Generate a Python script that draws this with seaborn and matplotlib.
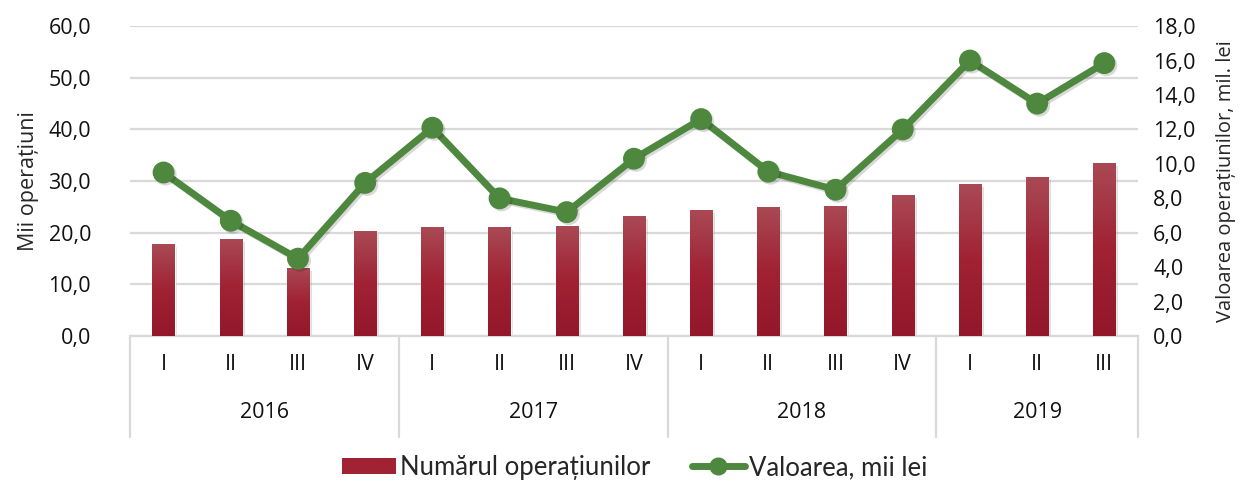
import numpy as np
import pandas as pd
import matplotlib
matplotlib.use('Agg')
import matplotlib.pyplot as plt
import matplotlib.patheffects as pe
from matplotlib.colors import LinearSegmentedColormap
from matplotlib.lines import Line2D
from matplotlib.patches import Patch
from matplotlib.ticker import FuncFormatter
import seaborn as sns

years = ['2016', '2017', '2018', '2019']
quarters = ['I', 'II', 'III', 'IV', 'I', 'II', 'III', 'IV', 'I', 'II', 'III', 'IV', 'I', 'II', 'III']
period_year = ['2016'] * 4 + ['2017'] * 4 + ['2018'] * 4 + ['2019'] * 3
numar_operatiuni = [17.8, 18.8, 13.2, 20.3, 21.1, 21.1, 21.3, 23.2, 24.4, 25.0, 25.2, 27.3, 29.4, 30.8, 33.5]
valoarea = [9.5, 6.7, 4.5, 8.9, 12.1, 8.0, 7.2, 10.3, 12.6, 9.55, 8.5, 12.0, 16.0, 13.5, 15.85]

period = [y + ' ' + q for y, q in zip(period_year, quarters)]
df = pd.DataFrame({'perioada': period, 'numar': numar_operatiuni, 'valoare': valoarea})

sns.set_style('white')
plt.rcParams['font.family'] = ['Open Sans', 'DejaVu Sans']

bar_col = '#9e2132'
line_col = '#4e883f'
grid_col = '#d9d9d9'
fs = 15.5

fig, ax = plt.subplots(figsize=(12.45, 4.83), dpi=100)
fig.subplots_adjust(left=0.1044, right=0.914, top=0.946, bottom=0.304)

sns.barplot(data=df, x='perioada', y='numar', color=bar_col, width=0.33, ax=ax,
            saturation=1, zorder=2)

# gradient fill + shadow on bars
cmap = LinearSegmentedColormap.from_list('bar', ['#93172a', '#a02233', '#a94a55'])
grad = np.linspace(0, 1, 256).reshape(-1, 1)
for p in ax.patches:
    x0, y0 = p.get_x(), p.get_y()
    w, h = p.get_width(), p.get_height()
    p.set_path_effects([pe.SimplePatchShadow(offset=(2, -2), shadow_rgbFace='#999999', alpha=0.3), pe.Normal()])
    im = ax.imshow(grad, cmap=cmap, extent=[x0, x0 + w, y0, y0 + h], origin='lower',
                   aspect='auto', zorder=3)
    im.set_clip_path(p)

ax.set_ylim(0, 60)
ax.set_xlim(-0.5, len(period) - 0.5)
ax.set_yticks(np.arange(0, 61, 10))
ax.yaxis.set_major_formatter(FuncFormatter(lambda v, _: f'{v:.1f}'.replace('.', ',')))
ax.grid(axis='y', color=grid_col, linewidth=1.6, zorder=0)
ax.set_axisbelow(True)
for s in ['top', 'right', 'left']:
    ax.spines[s].set_visible(False)
ax.spines['bottom'].set_color(grid_col)
ax.spines['bottom'].set_linewidth(1.6)
ax.tick_params(axis='y', labelsize=fs, length=0, pad=28, colors='#111111')
ax.tick_params(axis='x', labelsize=fs, length=0, pad=13, colors='#111111')
ax.set_xticks(range(len(period)))
ax.set_xticklabels(quarters)
ax.set_xlabel('')
ax.set_ylabel('Mii operațiuni', fontsize=fs)
ax.yaxis.set_label_coords(-0.09, 0.5)

ax2 = ax.twinx()
sns.pointplot(data=df, x='perioada', y='valoare', color=line_col, ax=ax2,
              markers='o', markersize=12, linewidth=5,
              path_effects=[pe.SimpleLineShadow(offset=(1.5, -1.5), alpha=0.15), pe.Normal()])
ax2.set_ylim(0, 18)
ax2.set_xlim(-0.5, len(period) - 0.5)
ax2.set_yticks(np.arange(0, 19, 2))
ax2.yaxis.set_major_formatter(FuncFormatter(lambda v, _: f'{v:.1f}'.replace('.', ',')))
for s in ['top', 'right', 'left', 'bottom']:
    ax2.spines[s].set_visible(False)
ax2.tick_params(axis='y', labelsize=fs, length=0, pad=11, colors='#111111')
ax2.set_ylabel('Valoarea operațiunilor, mil. lei', fontsize=14.5)
ax2.yaxis.set_label_coords(1.077, 0.5)
ax2.grid(False)

# category axis box with years
trans = ax.get_xaxis_transform()
box_bottom = -0.325
bounds = [-0.5, 3.5, 7.5, 11.5, 14.5]
for b in bounds:
    ax.plot([b, b], [0, box_bottom], color=grid_col, linewidth=1.6, transform=trans, clip_on=False)
for i, yr in enumerate(years):
    mid = (bounds[i] + bounds[i + 1]) / 2
    ax.text(mid, -0.245, yr, transform=trans, ha='center', va='center', fontsize=fs, color='#111111')

handles = [Patch(facecolor='#a02233', edgecolor='none'),
           Line2D([0], [0], color=line_col, linewidth=5, marker='o', markersize=12)]
fig.legend(handles, ['Numărul operațiunilor', 'Valoarea, mii lei'], loc='center',
           bbox_to_anchor=(0.51, 0.032), ncol=2, frameon=False,
           handlelength=2.1, handleheight=0.6, handletextpad=0.15, columnspacing=1.6,
           prop={'family': ['Lato', 'DejaVu Sans'], 'size': 18.5})

fig.savefig('out.png', dpi=100)
